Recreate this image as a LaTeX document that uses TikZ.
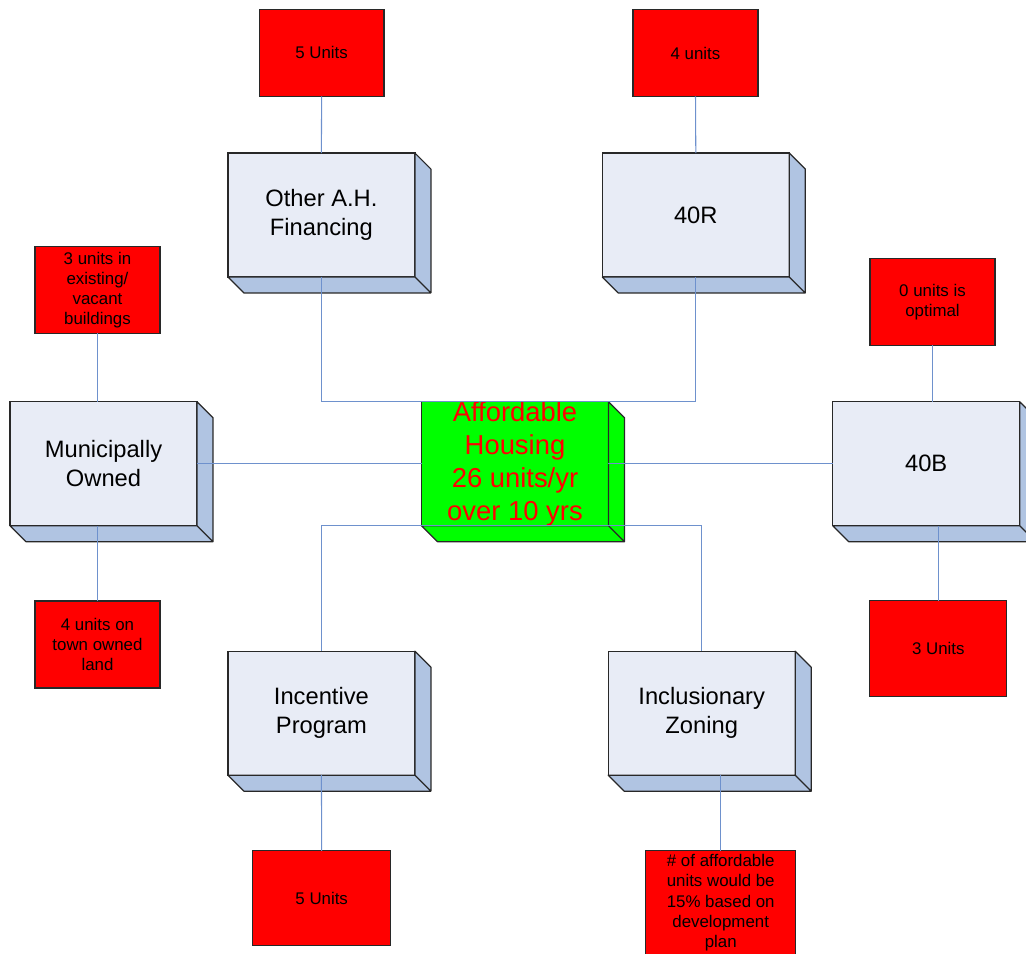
\documentclass[tikz,border=0pt]{standalone}
\usepackage{fontspec}
\setmainfont{Liberation Sans}
\definecolor{boxfill}{RGB}{232,236,246}
\definecolor{sidefill}{RGB}{176,196,226}
\definecolor{edge}{RGB}{40,40,40}
\definecolor{linkblue}{RGB}{110,145,205}
\definecolor{hubgreen}{RGB}{0,255,0}
\begin{document}
\begin{tikzpicture}[x=0.02cm, y=-0.02cm,
  every node/.style={outer sep=0pt, inner sep=2pt, align=center},
  block/.style={draw=edge, line width=0.7pt, fill=boxfill, minimum width=3.74cm, minimum height=2.48cm, font=\fontsize{13.5}{16.5}\selectfont},
  side/.style={draw=edge, line width=0.7pt, fill=sidefill, line join=round},
  tag/.style={draw=edge, line width=0.7pt, fill=red, minimum width=2.5cm, minimum height=1.74cm, font=\fontsize{9.6}{11.5}\selectfont},
  link/.style={draw=linkblue, line width=0.6pt}]
\clip (0,0) rectangle (1026,953);
% centre box
\node[block,fill=hubgreen,text=red,inner sep=0pt,text height=66.8pt,text depth=2.2pt,font=\fontsize{15.6}{18.7}\selectfont] (hub) at (515,463.7) {Affordable\\Housing\\26 units/yr\\over 10 yrs};
% programmes
\node[block] (other) at (321.4,215) {Other A.H.\\Financing};
\node[block] (r40) at (695.8,215) {40R};
\node[block] (muni) at (103.5,463.7) {Municipally\\Owned};
\node[block] (b40) at (926.2,463.7) {40B};
\node[block] (incent) at (321.4,713.2) {Incentive\\Program};
\node[block] (incl) at (701.7,713.2) {Inclusionary\\Zoning};
% depth faces
\foreach \n in {other,r40,muni,b40,incent,incl}
  \filldraw[side] (\n.north east) -- ++(16,16) -- ([shift={(16,16)}]\n.south east) -- ([shift={(16,16)}]\n.south west) -- (\n.south west) -- (\n.south east) -- cycle
    (\n.south east) -- ++(16,16);
\filldraw[side,fill=hubgreen] (hub.north east) -- ++(16,16) -- ([shift={(16,16)}]hub.south east) -- ([shift={(16,16)}]hub.south west) -- (hub.south west) -- (hub.south east) -- cycle
    (hub.south east) -- ++(16,16);
% unit counts
\node[tag] (fiveA) at (321.6,52.8) {5 Units};
\node[tag] (four) at (695.5,53) {4 units};
\node[tag] (exist) at (97.5,290) {3 units in\\existing/\\vacant\\buildings};
\node[tag] (optimal) at (932.5,302) {0 units is\\optimal};
\node[tag] (land) at (97.5,644.5) {4 units on\\town owned\\land};
\node[tag,minimum width=2.74cm,minimum height=1.92cm] (three) at (938.3,648.7) {3 Units};
\node[tag,minimum width=2.76cm,minimum height=1.9cm] (fiveB) at (321.7,898.3) {5 Units};
\node[tag,minimum width=3.0cm,minimum height=2.08cm] (pct) at (720.7,902.7) {\# of affordable\\units would be\\15\% based on\\development\\plan};
% connectors
\draw[link] (fiveA.south) -- (other.north);
\draw[link] (four.south) -- (r40.north);
\draw[link] (other.south) |- (hub.north);
\draw[link] (r40.south) |- (hub.north);
\draw[link] (muni.east) -- (hub.west);
\draw[link] (hub.east) -- (b40.west);
\draw[link] (incent.north) |- (hub.south);
\draw[link] (incl.north) |- (hub.south);
\draw[link] (exist.south) -- (exist.south |- muni.north);
\draw[link] (land.north) -- (land.north |- muni.south);
\draw[link] (optimal.south) -- (optimal.south |- b40.north);
\draw[link] (three.north) -- (three.north |- b40.south);
\draw[link] (incent.south) -- (fiveB.north);
\draw[link] (pct.north) -- (pct.north |- incl.south);
\end{tikzpicture}
\end{document}
